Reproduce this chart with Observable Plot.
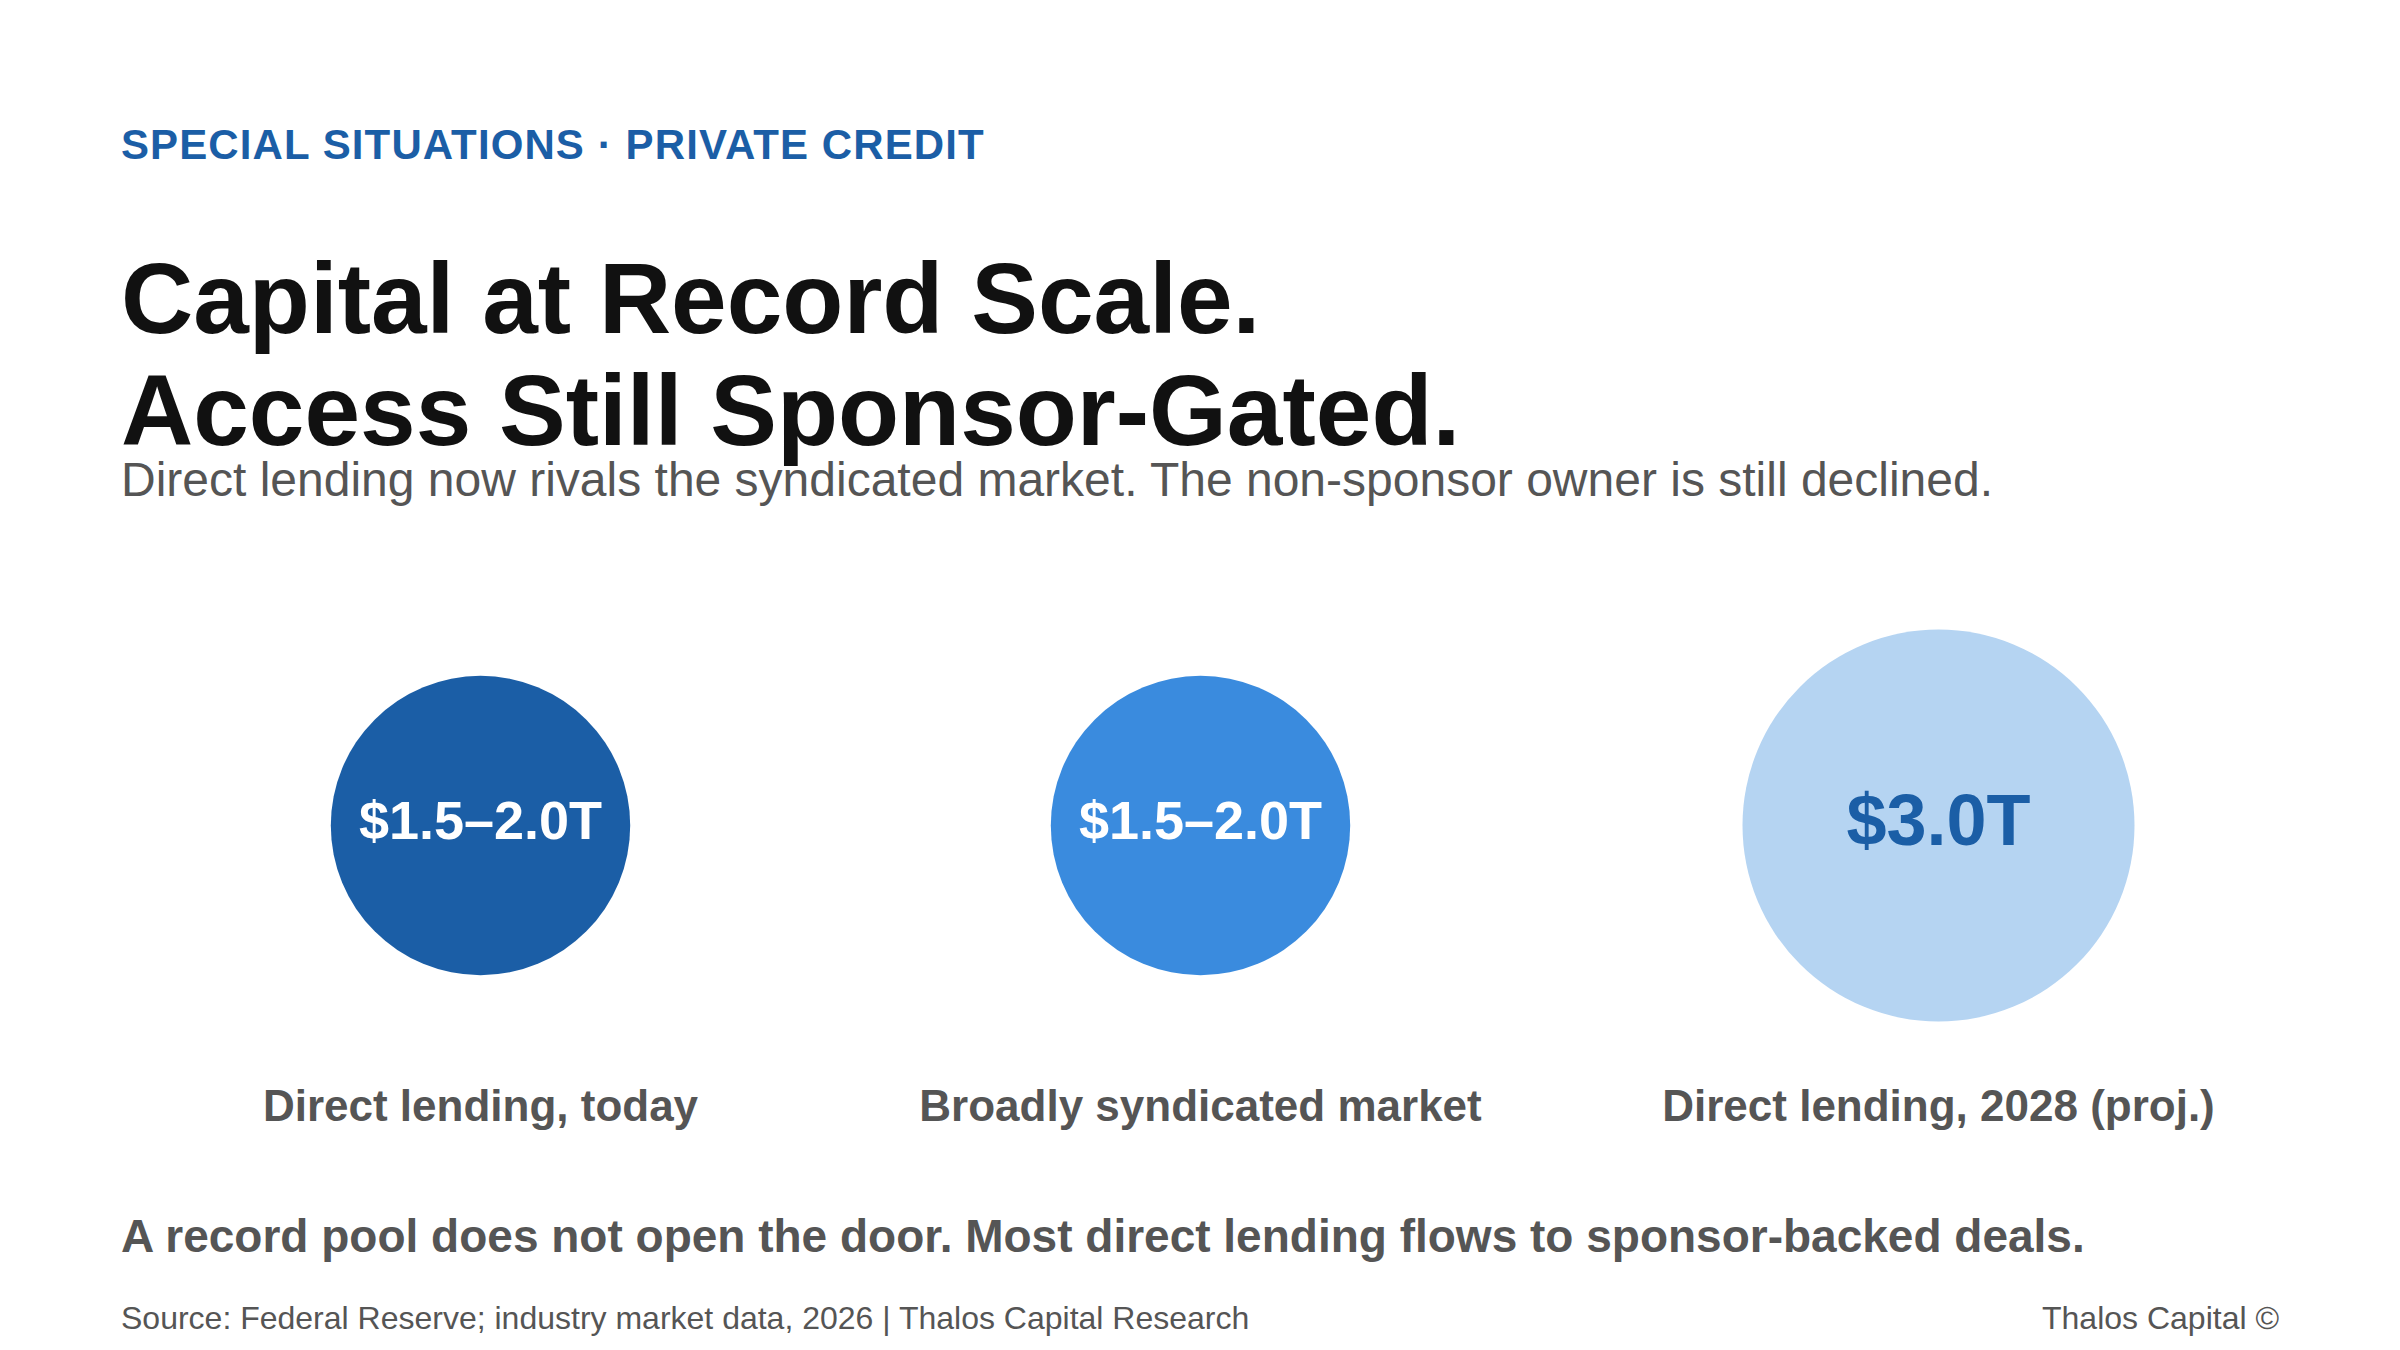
<!DOCTYPE html>
<html>
<head>
<meta charset="utf-8">
<script src="https://cdn.jsdelivr.net/npm/d3@7"></script>
<script src="https://cdn.jsdelivr.net/npm/@observablehq/plot@0.6"></script>
<style>
  html, body { margin: 0; padding: 0; background: #ffffff; }
  #page { position: relative; width: 2400px; height: 1350px; overflow: hidden; background: #ffffff;
          font-family: "Liberation Sans", Arial, Helvetica, sans-serif; }
  .t { position: absolute; white-space: nowrap; margin: 0; }
  #kicker { left: 121px; top: 123.5px; font-size: 42px; line-height: 42px; font-weight: 700; color: #1b5ea6; letter-spacing: 1.1px; }
  #title { left: 121px; top: 241.5px; font-size: 100px; line-height: 112px; font-weight: 700; color: #111111; }
  #subtitle { left: 121px; top: 456px; font-size: 48px; line-height: 48px; color: #555555; }
  #chart { position: absolute; left: 0; top: 560px; }
  #statement { left: 121px; top: 1213px; font-size: 46px; line-height: 46px; font-weight: 700; color: #555555; }
  #source { left: 121px; top: 1302px; font-size: 32px; line-height: 32px; color: #555555; }
  #brand { right: 121px; top: 1302px; font-size: 32px; line-height: 32px; color: #555555; }
</style>
</head>
<body>
<div id="page">
  <div id="kicker" class="t"></div>
  <div id="title" class="t"></div>
  <div id="subtitle" class="t"></div>
  <div id="chart"></div>
  <div id="statement" class="t"></div>
  <div id="source" class="t"></div>
  <div id="brand" class="t"></div>
</div>
<script>
// ---- Text content ----
const kicker = "SPECIAL SITUATIONS · PRIVATE CREDIT";
const titleLines = ["Capital at Record Scale.", "Access Still Sponsor-Gated."];
const subtitle = "Direct lending now rivals the syndicated market. The non-sponsor owner is still declined.";
const statement = "A record pool does not open the door. Most direct lending flows to sponsor-backed deals.";
const source = "Source: Federal Reserve; industry market data, 2026 | Thalos Capital Research";
const brand = "Thalos Capital ©";

// ---- Chart data ----
const categories = ["Direct lending, today", "Broadly syndicated market", "Direct lending, 2028 (proj.)"];
const valuesT = [1.75, 1.75, 3.0];               // $ trillions (midpoint of the $1.5–2.0T range)
const valueLabels = ["$1.5–2.0T", "$1.5–2.0T", "$3.0T"];

const data = categories.map((c, i) => ({ category: c, value: valuesT[i], label: valueLabels[i] }));

document.getElementById("kicker").textContent = kicker;
document.getElementById("title").innerHTML = titleLines.map(s => s.replace(/&/g, "&amp;")).join("<br>");
document.getElementById("subtitle").textContent = subtitle;
document.getElementById("statement").textContent = statement;
document.getElementById("source").textContent = source;
document.getElementById("brand").textContent = brand;

const font = "'Liberation Sans', Arial, Helvetica, sans-serif";

function build(xScale) {
  return Plot.plot({
    width: 2400,
    height: 600,
    marginTop: 0,
    marginBottom: 70,
    marginLeft: 0,
    marginRight: 0,
    x: xScale,
    r: { type: "sqrt", domain: [0, 3.0], range: [0, 196] },
    color: { domain: categories, range: ["#1b5ea6", "#3a8bde", "#b5d4f2"] },
    style: { fontFamily: font, background: "transparent", overflow: "visible" },
    marks: [
      Plot.dot(data, { x: "category", r: "value", fill: "category" }),
      Plot.text(data.filter(d => d.value < 3), {
        x: "category", text: "label", fill: "#ffffff", fontSize: 54, fontWeight: 700, dy: -4
      }),
      Plot.text(data.filter(d => d.value >= 3), {
        x: "category", text: "label", fill: "#1b5ea6", fontSize: 72, fontWeight: 700, dy: -4
      }),
      Plot.text(data, {
        x: "category", text: "category", frameAnchor: "bottom", lineAnchor: "bottom", dy: 30,
        fontSize: 44, fontWeight: 700, fill: "#555555"
      })
    ]
  });
}

let chart;
try {
  chart = build({ type: "ordinal", domain: categories, range: [480, 1200, 1938], axis: null });
  const cx = [...chart.querySelectorAll("circle")].map(c => +c.getAttribute("cx"));
  if (cx.length !== 3 || cx.some(v => !isFinite(v))) throw new Error("ordinal x failed");
} catch (e) {
  chart = build({ type: "point", domain: categories, range: [478, 1938], padding: 0, axis: null });
}
document.getElementById("chart").appendChild(chart);
</script>
</body>
</html>
